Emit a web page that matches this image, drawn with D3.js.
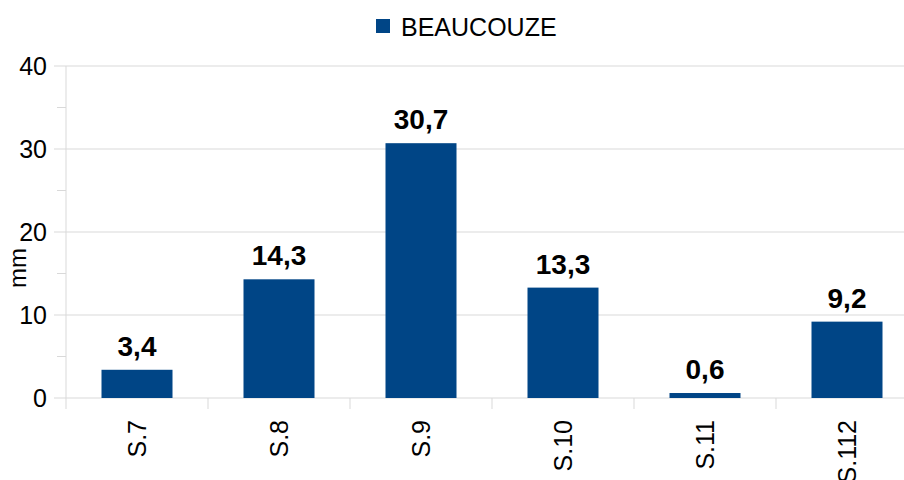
<!DOCTYPE html>
<html>
<head>
<meta charset="utf-8">
<script src="https://cdn.jsdelivr.net/npm/d3@7"></script>
<style>
  body { margin: 0; background: #fff; }
  text { font-family: "Liberation Sans", Arial, sans-serif; }
</style>
</head>
<body>
<svg id="chart" width="904" height="480"></svg>
<script>
// data
var categories = ["S.7", "S.8", "S.9", "S.10", "S.11", "S.112"];
var values = [3.4, 14.3, 30.7, 13.3, 0.6, 9.2];
var yTicks = [0, 10, 20, 30, 40];
var yMinor = [5, 15, 25, 35];
var seriesName = "BEAUCOUZE";

var svg = d3.select("#chart");
var blue = "#004586", grid = "#d9d9d9";

// plot runs past the right edge in the original, it's cropped
var x = d3.scaleBand().domain(categories).range([66, 918]).paddingInner(0.5).paddingOuter(0.25);
var y = d3.scaleLinear().domain([0, 40]).range([398, 66]);

// gridlines + ticks
var g = svg.append("g");
g.selectAll("line.grid").data(yTicks).enter().append("line")
  .attr("x1", 54).attr("x2", 918)
  .attr("y1", function(d) { return y(d); }).attr("y2", function(d) { return y(d); })
  .attr("stroke", grid).attr("stroke-width", 1);
g.selectAll("line.minor").data(yMinor).enter().append("line")
  .attr("x1", 57).attr("x2", 66)
  .attr("y1", function(d) { return y(d); }).attr("y2", function(d) { return y(d); })
  .attr("stroke", grid).attr("stroke-width", 1);
g.append("line").attr("x1", 66).attr("x2", 66).attr("y1", 66).attr("y2", 409)
  .attr("stroke", grid).attr("stroke-width", 1);

// category separators under the axis
var step = x.step();
g.selectAll("line.sep").data(categories).enter().append("line")
  .attr("x1", function(d) { return x(d) - x.bandwidth() / 2 + step; })
  .attr("x2", function(d) { return x(d) - x.bandwidth() / 2 + step; })
  .attr("y1", 398).attr("y2", 409)
  .attr("stroke", grid).attr("stroke-width", 1);

// y tick labels
svg.selectAll("text.ytick").data(yTicks).enter().append("text")
  .attr("x", 47).attr("y", function(d) { return y(d) + 9; })
  .attr("text-anchor", "end").attr("font-size", 25).attr("fill", "#000")
  .text(function(d) { return d; });

svg.append("text")
  .attr("transform", "translate(26,268) rotate(-90)")
  .attr("text-anchor", "middle").attr("font-size", 24)
  .text("mm");

// bars
svg.selectAll("rect.bar").data(values).enter().append("rect")
  .attr("x", function(d, i) { return x(categories[i]); })
  .attr("y", function(d) { return y(d); })
  .attr("width", x.bandwidth())
  .attr("height", function(d) { return y(0) - y(d); })
  .attr("fill", blue);

// value labels
svg.selectAll("text.val").data(values).enter().append("text")
  .attr("x", function(d, i) { return x(categories[i]) + x.bandwidth() / 2; })
  .attr("y", function(d) { return y(d) - 14; })
  .attr("text-anchor", "middle").attr("font-size", 28).attr("font-weight", "bold")
  .text(function(d) { return String(d).replace(".", ","); });

// category labels, rotated
svg.selectAll("text.cat").data(categories).enter().append("text")
  .attr("transform", function(d) {
    return "translate(" + (x(d) + x.bandwidth() / 2 + 9) + ",420) rotate(-90)";
  })
  .attr("text-anchor", "end").attr("font-size", 25)
  .text(function(d) { return d; });

// legend
svg.append("rect").attr("x", 376).attr("y", 19).attr("width", 14).attr("height", 14).attr("fill", blue);
svg.append("text").attr("x", 401).attr("y", 36).attr("font-size", 25).text(seriesName);
</script>
</body>
</html>
